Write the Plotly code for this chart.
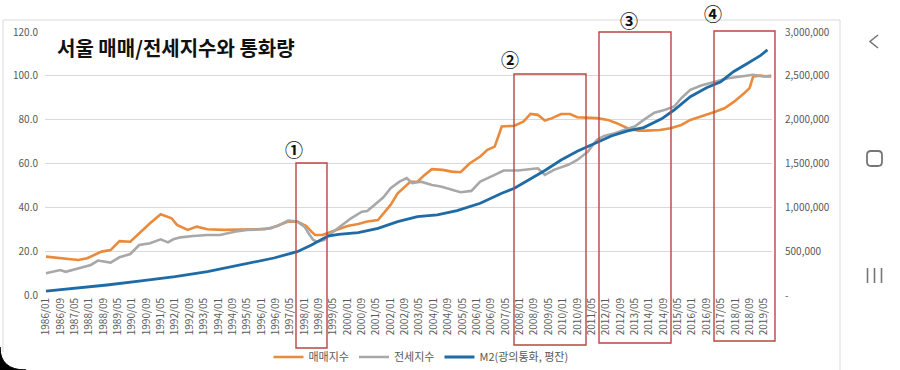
import plotly.graph_objects as go

# ---------------- data ----------------
sale_dates = ["1986-01", "1986-09", "1987-07", "1987-12", "1988-08", "1989-01", "1989-06", "1989-12",
              "1990-06", "1990-11", "1991-05", "1991-11", "1992-02", "1992-08", "1993-01", "1993-07",
              "1994-04", "1995-02", "1995-11", "1996-06", "1996-12", "1997-04", "1997-09", "1998-02",
              "1998-05", "1998-07", "1998-11", "1999-03", "1999-07", "2000-01", "2000-07", "2000-12",
              "2001-06", "2001-09", "2002-01", "2002-05", "2002-09", "2002-12", "2003-04", "2003-08",
              "2003-12", "2004-06", "2004-11", "2005-04", "2005-09", "2006-03", "2006-07", "2006-11",
              "2007-01", "2007-03", "2007-10", "2008-03", "2008-07", "2008-11", "2009-03", "2009-07",
              "2009-12", "2010-05", "2010-09", "2011-03", "2011-08", "2012-02", "2012-07", "2013-01",
              "2013-07", "2013-12", "2014-07", "2015-01", "2015-07", "2015-12", "2016-06", "2017-01",
              "2017-07", "2017-12", "2018-06", "2018-09", "2018-11", "2019-03", "2019-07", "2019-09"]
sale_values = [17.5, 16.8, 16.0, 16.8, 19.8, 20.5, 24.6, 24.3,
               28.9, 32.7, 36.8, 35.0, 32.0, 29.7, 31.2, 30.0,
               29.7, 29.8, 30.0, 30.4, 32.4, 33.5, 33.5, 31.5,
               28.9, 27.4, 27.4, 28.5, 29.7, 31.5, 32.4, 33.5,
               34.2, 37.3, 41.1, 46.4, 49.5, 51.7, 51.7, 54.8,
               57.4, 57.1, 56.3, 56.0, 60.0, 63.2, 66.2, 67.7,
               72.3, 76.9, 77.2, 79.1, 82.6, 82.2, 79.6, 80.7,
               82.6, 82.6, 81.1, 80.7, 80.7, 79.9, 78.4, 76.1,
               75.0, 75.0, 75.3, 76.1, 77.6, 79.9, 81.4, 83.4,
               85.2, 88.0, 92.1, 94.4, 99.7, 100.1, 99.7, 99.7]

jeonse_dates = ["1986-01", "1986-09", "1986-12", "1987-07", "1988-02", "1988-06", "1989-01", "1989-06",
                "1989-12", "1990-05", "1990-11", "1991-05", "1991-09", "1991-12", "1992-04", "1992-11",
                "1993-07", "1994-02", "1994-10", "1995-05", "1996-03", "1996-10", "1997-04", "1997-09",
                "1998-01", "1998-04", "1998-06", "1998-08", "1998-12", "1999-04", "1999-09", "2000-03",
                "2000-09", "2000-12", "2001-04", "2001-09", "2002-01", "2002-06", "2002-10", "2003-01",
                "2003-06", "2003-12", "2004-05", "2004-11", "2005-04", "2005-10", "2006-03", "2006-11",
                "2007-04", "2007-12", "2008-05", "2008-11", "2009-03", "2009-08", "2010-04", "2010-09",
                "2011-03", "2011-08", "2011-12", "2012-06", "2012-11", "2013-05", "2013-10", "2014-04",
                "2014-10", "2015-03", "2015-07", "2015-12", "2016-06", "2017-01", "2017-09", "2018-04",
                "2018-11", "2019-05", "2019-09"]
jeonse_values = [9.9, 11.4, 10.6, 12.2, 13.7, 15.7, 14.8, 17.2,
                 18.7, 22.8, 23.6, 25.4, 24.0, 25.4, 26.3, 26.9,
                 27.4, 27.4, 28.9, 29.7, 30.0, 31.5, 33.9, 33.5,
                 31.2, 27.4, 25.1, 24.3, 25.1, 28.2, 31.2, 35.0,
                 38.0, 38.3, 41.1, 44.6, 48.7, 51.7, 53.3, 51.0,
                 51.7, 50.2, 49.5, 47.9, 46.9, 47.5, 51.7, 54.8,
                 56.8, 56.8, 57.4, 57.8, 54.8, 57.1, 59.4, 61.6,
                 65.4, 70.8, 72.6, 73.8, 75.3, 76.9, 79.9, 83.2,
                 84.5, 86.0, 89.8, 93.6, 95.6, 97.1, 98.9, 99.7,
                 100.5, 99.7, 100.1]

m2_dates = ["1986-01", "1987-05", "1988-11", "1990-06", "1992-01", "1993-07", "1995-02", "1996-01",
            "1996-08", "1997-09", "1998-05", "1999-02", "1999-08", "2000-07", "2001-06", "2002-05",
            "2003-04", "2004-03", "2005-02", "2006-03", "2007-03", "2007-10", "2008-05", "2009-03",
            "2009-12", "2010-09", "2011-07", "2012-04", "2013-01", "2013-10", "2014-08", "2015-03",
            "2015-12", "2016-09", "2017-05", "2017-12", "2018-08", "2019-03", "2019-07"]
m2_values = [45000, 76000, 114000, 160000, 209000, 266000, 342000, 388000,
             422000, 494000, 570000, 673000, 692000, 711000, 760000, 836000,
             893000, 913000, 962000, 1046000, 1160000, 1217000, 1300000, 1420000,
             1540000, 1640000, 1730000, 1814000, 1871000, 1910000, 2010000, 2110000,
             2262000, 2365000, 2433000, 2547000, 2643000, 2730000, 2795000]

tick_labels = ["1986/01", "1986/09", "1987/05", "1988/01", "1988/09", "1989/05", "1990/01", "1990/09",
               "1991/05", "1992/01", "1992/09", "1993/05", "1994/01", "1994/09", "1995/05", "1996/01",
               "1996/09", "1997/05", "1998/01", "1998/09", "1999/05", "2000/01", "2000/09", "2001/05",
               "2002/01", "2002/09", "2003/05", "2004/01", "2004/09", "2005/05", "2006/01", "2006/09",
               "2007/05", "2008/01", "2008/09", "2009/05", "2010/01", "2010/09", "2011/05", "2012/01",
               "2012/09", "2013/05", "2014/01", "2014/09", "2015/05", "2016/01", "2016/09", "2017/05",
               "2018/01", "2018/09", "2019/05"]
left_ticks = [0, 20, 40, 60, 80, 100, 120]
left_tick_text = ["0.0", "20.0", "40.0", "60.0", "80.0", "100.0", "120.0"]
right_ticks = [0, 500000, 1000000, 1500000, 2000000, 2500000, 3000000]
right_tick_text = ["-", "500,000", "1,000,000", "1,500,000", "2,000,000", "2,500,000", "3,000,000"]

series_names = ["매매지수", "전세지수", "M2(광의통화, 평잔)"]
title_text = "서울 매매/전세지수와 통화량"
marks = ["①", "②", "③", "④"]

# ---------------- layout helpers ----------------
W, H = 900, 370
L, R, T, B = 45, 128, 32, 75
PW, PH = W - L - R, H - T - B


def px(x):
    return (x - L) / PW


def py(y):
    return (H - B - y) / PH


FONT = "Noto Sans CJK KR, Noto Sans, sans-serif"
ORANGE = "#EA8A3C"
GREY = "#A8A8A8"
BLUE = "#1F6BA5"
RED = "#B8473F"
TXT = "#595959"

fig = go.Figure()
fig.add_trace(go.Scatter(x=[d + "-01" for d in sale_dates], y=sale_values, mode="lines",
                         name=series_names[0], line=dict(color=ORANGE, width=2.6)))
fig.add_trace(go.Scatter(x=[d + "-01" for d in jeonse_dates], y=jeonse_values, mode="lines",
                         name=series_names[1], line=dict(color=GREY, width=2.6)))
fig.add_trace(go.Scatter(x=[d + "-01" for d in m2_dates], y=m2_values, mode="lines",
                         name=series_names[2], line=dict(color=BLUE, width=2.8), yaxis="y2"))

shapes = []
# red highlight boxes
for x0, x1, y0, y1 in [(296, 327, 163, 348), (514, 586, 74, 345), (599, 671, 32, 343), (714, 775, 31, 341)]:
    shapes.append(dict(type="rect", xref="paper", yref="paper", x0=px(x0), x1=px(x1), y0=py(y1), y1=py(y0),
                       line=dict(color=RED, width=1.4), fillcolor="rgba(0,0,0,0)", layer="above"))
# white box behind title (hides top gridline)
shapes.append(dict(type="rect", xref="paper", yref="paper", x0=px(46), x1=px(318), y0=py(66), y1=py(26),
                   line=dict(width=0), fillcolor="white", layer="between"))
# chart border
border = "#D9D9D9"
shapes.append(dict(type="line", xref="paper", yref="paper", x0=px(3), x1=px(840), y0=py(20), y1=py(20),
                   line=dict(color=border, width=1)))
shapes.append(dict(type="line", xref="paper", yref="paper", x0=px(3), x1=px(3), y0=py(20), y1=py(352),
                   line=dict(color=border, width=1)))
shapes.append(dict(type="line", xref="paper", yref="paper", x0=px(840), x1=px(840), y0=py(20), y1=py(370),
                   line=dict(color=border, width=1)))
# phone screen corner
shapes.append(dict(type="path", xref="paper", yref="paper",
                   path=f"M {px(0)},{py(347)} Q {px(0)},{py(370)} {px(26)},{py(370)} L {px(0)},{py(370)} Z",
                   fillcolor="black", line=dict(color="black", width=1)))
# phone navigation icons
ICON = "#767676"
shapes.append(dict(type="path", xref="paper", yref="paper",
                   path=f"M {px(878)},{py(35)} L {px(870)},{py(41.5)} L {px(878)},{py(48)}",
                   line=dict(color=ICON, width=1.6)))
x0, x1, y0, y1, r = 867, 882, 151, 166, 4
sq = (f"M {px(x0 + r)},{py(y0)} L {px(x1 - r)},{py(y0)} Q {px(x1)},{py(y0)} {px(x1)},{py(y0 + r)} "
      f"L {px(x1)},{py(y1 - r)} Q {px(x1)},{py(y1)} {px(x1 - r)},{py(y1)} "
      f"L {px(x0 + r)},{py(y1)} Q {px(x0)},{py(y1)} {px(x0)},{py(y1 - r)} "
      f"L {px(x0)},{py(y0 + r)} Q {px(x0)},{py(y0)} {px(x0 + r)},{py(y0)} Z")
shapes.append(dict(type="path", xref="paper", yref="paper", path=sq, line=dict(color=ICON, width=1.8)))
for xx in (867.5, 874.5, 881.5):
    shapes.append(dict(type="line", xref="paper", yref="paper", x0=px(xx), x1=px(xx), y0=py(268), y1=py(283),
                       line=dict(color=ICON, width=1.6)))

annotations = [dict(text="<b>" + title_text + "</b>", x=px(55), y=py(47), xref="paper", yref="paper",
                    xanchor="left", yanchor="middle", showarrow=False,
                    font=dict(family=FONT, size=20, color="#111111"))]
for m, (xx, yy) in zip(marks, [(294, 149), (510, 59), (629, 20), (713, 13)]):
    annotations.append(dict(text="<b>" + m + "</b>", x=px(xx), y=py(yy), xref="paper", yref="paper",
                            xanchor="center", yanchor="middle", showarrow=False,
                            font=dict(family=FONT, size=18, color="#111111")))

fig.update_layout(
    width=W, height=H,
    margin=dict(l=L, r=R, t=T, b=B, pad=0, autoexpand=False),
    paper_bgcolor="white", plot_bgcolor="white",
    font=dict(family=FONT, color=TXT, size=10),
    showlegend=True,
    legend=dict(orientation="h", x=px(421), xanchor="center", y=py(357), yanchor="middle",
                font=dict(family=FONT, size=11, color=TXT), itemwidth=30, bgcolor="rgba(0,0,0,0)"),
    xaxis=dict(type="date", range=["1985-12-16", "2019-09-16"], automargin=False,
               tickvals=[t.replace("/", "-") + "-01" for t in tick_labels], ticktext=tick_labels,
               tickangle=-90, showgrid=False, zeroline=False, showline=False, ticks="",
               tickfont=dict(family=FONT, size=10, color=TXT)),
    yaxis=dict(range=[0, 120], tickvals=left_ticks, ticktext=left_tick_text, showgrid=True, automargin=False,
               gridcolor="#D9D9D9", gridwidth=1, zeroline=False, showline=False, ticks="",
               ticklabelstandoff=6, tickfont=dict(family=FONT, size=10, color=TXT)),
    yaxis2=dict(range=[0, 3000000], tickvals=right_ticks, ticktext=right_tick_text, overlaying="y",
                side="right", showgrid=False, zeroline=False, showline=False, ticks="", automargin=False,
                ticklabelstandoff=12, tickfont=dict(family=FONT, size=10, color=TXT)),
    shapes=shapes,
    annotations=annotations,
)

fig.write_html("out.html", config={"displayModeBar": False},
               post_script="document.body.style.margin='0';document.body.style.padding='0';"
                           "document.body.style.overflow='hidden';")
